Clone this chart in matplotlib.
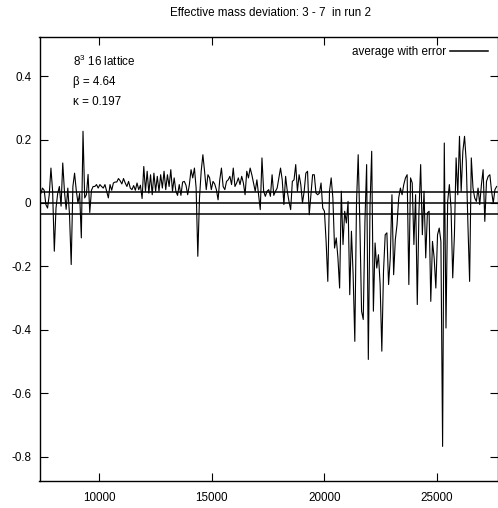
import numpy as np
import matplotlib
matplotlib.use("Agg")
import matplotlib.pyplot as plt
from matplotlib import font_manager

# pick a condensed sans if one is installed, else regular Liberation Sans
have_narrow = any(f.name == 'Liberation Sans Narrow' for f in font_manager.fontManager.ttflist)
if have_narrow:
    FAM, FS = ['Liberation Sans Narrow', 'DejaVu Sans'], 10.3
else:
    FAM, FS = ['Liberation Sans', 'DejaVu Sans'], 8.4
plt.rcParams['font.family'] = FAM
plt.rcParams['mathtext.fontset'] = 'custom'
plt.rcParams['mathtext.rm'] = FAM[0]
plt.rcParams['mathtext.it'] = FAM[0]
plt.rcParams['axes.unicode_minus'] = False

# ---- data ----
sweep_start = 7400
sweep_step = 75

seg_a = [0.030, 0.047, 0.040, -0.005, -0.016, 0.026, 0.110, 0.037, -0.152, -0.016,
         0.030, 0.052, -0.010, 0.126, 0.037, -0.020, 0.047, -0.037, -0.194, 0.052,
         0.094, 0.040, 0.000, 0.030, -0.110, 0.226, 0.016, 0.026, 0.090, -0.030,
         0.040, 0.052, 0.052, 0.058, 0.047, 0.058, 0.052, 0.047, 0.058, 0.037,
         0.016, 0.058, 0.040, 0.063, 0.066]
seg_b = [0.066, 0.077, 0.070, 0.060, 0.077, 0.063, 0.052, 0.068, 0.047, 0.042,
         0.055, 0.040, 0.063, 0.042, 0.056, 0.014, 0.115, 0.037, 0.100, 0.031,
         0.089, 0.026, 0.094, 0.037, 0.084, 0.037, 0.089, 0.047, 0.100, 0.042,
         0.089, 0.052, 0.105, 0.037, 0.079, 0.037, 0.024, 0.058, 0.024, 0.066,
         0.068, 0.056, 0.026, 0.058, 0.105]
seg_c = [0.079, 0.110, 0.047, -0.168, 0.016, 0.100, 0.152, 0.100, 0.042, 0.089,
         0.079, 0.042, 0.068, 0.060, 0.042, 0.010, 0.073, 0.110, 0.052, 0.042,
         0.068, 0.073, 0.084, 0.058, 0.110, 0.052, 0.063, 0.079, 0.058, 0.084,
         0.063, 0.026, 0.100, 0.079, 0.110, 0.089, 0.063, 0.037, 0.073, 0.026,
         -0.021, 0.142, 0.037, 0.021, 0.037]
seg_d = [0.042, 0.021, 0.089, 0.024, 0.037, 0.047, 0.079, 0.110, 0.073, -0.005,
         0.084, 0.037, 0.005, -0.021, 0.068, 0.073, 0.121, 0.037, 0.089, 0.058,
         0.000, 0.037, 0.094, 0.100, -0.037, 0.026, 0.089, 0.089, 0.031, 0.026,
         0.031, 0.063, -0.016, -0.026, -0.121, -0.247, 0.037, 0.079, 0.016, -0.142,
         -0.110, -0.173, -0.268, 0.037, -0.131]
seg_e = [-0.026, -0.063, 0.005, -0.289, -0.089, -0.226, -0.436, 0.000, 0.152, -0.068,
         -0.341, -0.367, -0.058, 0.121, -0.493, -0.010, 0.163, -0.341, -0.126, -0.205,
         -0.163, -0.257, -0.467, -0.215, -0.100, -0.094, -0.257, -0.173, 0.026, -0.226,
         -0.115, -0.068, 0.016, 0.047, 0.026, 0.058, 0.079, 0.089, -0.257, 0.079,
         0.063, -0.131, 0.026, -0.320, -0.026]
seg_f = [0.121, -0.100, 0.037, -0.173, -0.031, -0.026, -0.310, -0.121, -0.173, -0.268,
         -0.100, -0.079, -0.121, -0.767, 0.189, -0.394, 0.005, 0.058, -0.016, -0.236,
         -0.100, 0.142, 0.026, 0.210, 0.037, 0.163, 0.210, 0.131, -0.068, -0.247,
         0.142, 0.047, 0.016, 0.005, 0.047, -0.005, 0.058, 0.105, -0.058, 0.068,
         0.084, 0.089, 0.037, 0.000, 0.042, 0.052]

deviation = np.array(seg_a + seg_b + seg_c + seg_d + seg_e + seg_f)
sweeps = sweep_start + sweep_step * np.arange(len(deviation))

average = 0.0
error = 0.035

title = "Effective mass deviation: 3 - 7  in run 2"
info_lines = ["$8^{3}$ 16 lattice", "\u03b2 = 4.64", "\u03ba = 0.197"]
legend_label = "average with error"

xticks = [10000, 15000, 20000, 25000]
xticklabels = ["10000", "15000", "20000", "25000"]
yticks = [0.4, 0.2, 0.0, -0.2, -0.4, -0.6, -0.8]
yticklabels = ["0.4", "0.2", "0", "-0.2", "-0.4", "-0.6", "-0.8"]

# ---- figure ----
fig = plt.figure(figsize=(4.98, 5.08), dpi=100)
ax = fig.add_axes([39.5 / 498, 27 / 508, 458 / 498, 444 / 508])

ax.plot(sweeps, deviation, color='black', lw=0.8)
avg_line = ax.axhline(average, color='black', lw=1.1, label=legend_label)
ax.axhline(average + error, color='black', lw=1.1)
ax.axhline(average - error, color='black', lw=1.1)

ax.set_xlim(7342, 27689)
ax.set_ylim(-0.876, 0.523)

ax.set_xticks(xticks)
ax.set_xticklabels(xticklabels)
ax.set_yticks(yticks)
ax.set_yticklabels(yticklabels)
ax.tick_params(direction='in', length=6, width=0.8, top=True, right=True,
               labelsize=FS, colors='black')
ax.tick_params(axis='x', pad=8)
ax.tick_params(axis='y', pad=6)
for s in ax.spines.values():
    s.set_linewidth(1.0)
    s.set_color('black')

fig.text(271 / 498, 1 - 13 / 508, title, ha='center', va='center', fontsize=FS)

info_y = [61, 82, 102]
for txt, py in zip(info_lines, info_y):
    ax.text((72.7 - 39.5) / 458, (481 - py) / 444, txt, transform=ax.transAxes,
            ha='left', va='center', fontsize=FS)

ax.legend(handles=[avg_line], loc='center right', bbox_to_anchor=(0.98, 0.967),
          frameon=False, markerfirst=False, handlelength=38 / (FS * 1.389),
          handletextpad=4 / (FS * 1.389),
          borderpad=0, borderaxespad=0, fontsize=FS)

fig.savefig("out.png", dpi=100)
